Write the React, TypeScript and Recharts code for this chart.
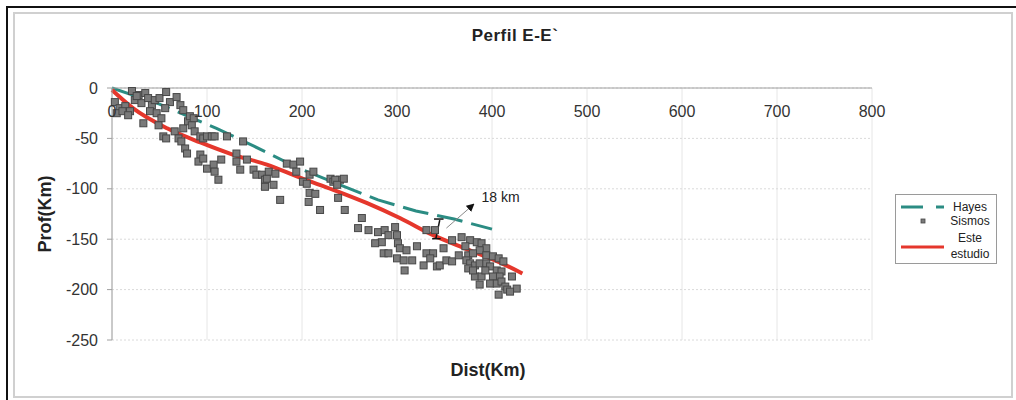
import React from "react"
import {
  ComposedChart,
  Line,
  Scatter,
  XAxis,
  YAxis,
  CartesianGrid,
  ReferenceLine,
  ReferenceDot,
} from "recharts"

// Perfil E-E` : distancia (km) vs profundidad (km)
const xTicks = [0, 100, 200, 300, 400, 500, 600, 700, 800]
const yTicks = [0, -50, -100, -150, -200, -250]

// Hayes (linea discontinua)
const hayesX = [0, 50, 110, 150, 195, 240, 280, 320, 360, 400]
const hayesY = [0, -16, -40, -58, -79, -96, -111, -122, -130, -140]

// Este estudio (linea roja)
const esteX = [0, 22, 58, 93, 127, 163, 198, 233, 268, 303, 338, 374, 408, 432]
const esteY = [-2, -20, -40, -54, -66, -76, -89, -101, -114, -129, -146, -160, -173, -184]

// Sismos (hipocentros)
const sismosX = [
  3, 8, 14, 19, 24, 28, 31, 35, 38, 42, 45, 50, 57, 61, 68, 72, 75, 56, 40, 47,
  52, 33, 49, 54, 57, 66, 70, 73, 77, 79, 75, 80, 82, 86, 84, 87, 93, 96, 100, 105,
  108, 121, 93, 91, 96, 100, 107, 108, 112, 115, 131, 138, 142, 135, 149, 152, 158, 161, 163, 170,
  177, 161, 131, 165, 172, 184, 191, 194, 198, 201, 208, 212, 208, 207, 219, 230, 233, 240, 244, 238,
  245, 205, 214, 235, 237, 5, 11, 17, 21, 26,
  263, 259, 270, 280, 287, 291, 300, 298, 284, 277, 301, 303, 310, 286, 291, 300, 307, 316, 308, 321,
  328, 331, 338, 335, 342, 345, 331, 340, 349, 352, 358, 358, 368, 365, 377, 372, 375, 384, 389, 394,
  387, 380, 373, 377, 382, 387, 394, 398, 405, 410, 408, 401, 398, 405, 410, 414, 407, 416, 382, 389,
  387, 375, 380, 394, 421, 426, 419, 393, 401, 407, 412,
]
const sismosY = [
  -14, -20, -18, -23, -12, -7, -15, -5, -10, -17, -12, -10, -4, -14, -9, -17, -22, -20, -23, -25,
  -30, -35, -37, -48, -50, -43, -50, -53, -60, -65, -40, -33, -28, -30, -37, -43, -48, -50, -48, -48,
  -48, -48, -66, -73, -70, -80, -76, -83, -91, -71, -65, -53, -71, -81, -81, -86, -86, -91, -90, -96,
  -111, -98, -73, -83, -85, -75, -76, -83, -73, -93, -86, -83, -104, -113, -121, -90, -93, -91, -90, -109,
  -121, -95, -105, -91, -96, -25, -23, -27, -3, -8,
  -129, -139, -141, -143, -141, -146, -146, -138, -153, -154, -154, -159, -161, -164, -164, -169, -171, -171, -181, -157,
  -176, -164, -164, -169, -177, -176, -141, -141, -159, -171, -172, -151, -148, -166, -151, -157, -166, -153, -154, -159,
  -161, -164, -171, -174, -176, -174, -174, -177, -181, -182, -187, -187, -194, -194, -192, -197, -205, -200, -187, -187,
  -195, -179, -181, -166, -187, -199, -202, -181, -167, -169, -172,
]

const hayesData = hayesX.map((x, i) => ({ x, y: hayesY[i] }))
const esteData = esteX.map((x, i) => ({ x, y: esteY[i] }))
const sismosData = sismosX.map((x, i) => ({ x, y: sismosY[i] }))

const FONT = "'Liberation Sans', Arial, sans-serif"
const TEAL = "#2b8c83"
const RED = "#e5372c"

const SquareDot = (props: any) => {
  const { cx, cy } = props
  return <rect x={cx - 3.5} y={cy - 3.5} width={7} height={7} fill="#7a7a7a" stroke="#474747" strokeWidth={1} />
}

const ArrowShape = (props: any) => {
  const { x1, y1, x2, y2 } = props
  return (
    <g>
      <defs>
        <marker id="flecha" markerWidth="8" markerHeight="8" refX="6" refY="4" orient="auto" markerUnits="userSpaceOnUse">
          <path d="M0,0 L8,4 L0,8 z" fill="#111" />
        </marker>
      </defs>
      <line x1={x1} y1={y1} x2={x2} y2={y2} stroke="#8a8a8a" strokeWidth={1} markerEnd="url(#flecha)" />
    </g>
  )
}

export default function App() {
  return (
    <div style={{ position: "absolute", left: 0, top: 0, width: 1016, height: 400, background: "#fff", fontFamily: FONT }}>
      {/* marco */}
      <div style={{ position: "absolute", left: 6, top: 6, width: 1010, height: 394, borderTop: "2px solid #111", borderLeft: "2px solid #111" }} />
      <div style={{ position: "absolute", left: 13, top: 12, width: 996, height: 382, border: "2px solid #d0d0d0" }} />

      <div style={{ position: "absolute", left: 0, top: 26, width: 1030, textAlign: "center", fontWeight: "bold", fontSize: 17, letterSpacing: 0.5, color: "#222" }}>
        Perfil E-E`
      </div>

      <div style={{ position: "absolute", left: 0, top: 0 }}>
        <ComposedChart width={1016} height={400} margin={{ top: 88, right: 144, bottom: 60, left: 52 }}>
          <CartesianGrid horizontal={false} stroke="#e6e6e6" />
          <CartesianGrid vertical={false} stroke="#dadada" strokeDasharray="2 2" />
          <XAxis
            dataKey="x"
            type="number"
            domain={[0, 800]}
            ticks={xTicks}
            interval={0}
            orientation="top"
            mirror
            tickLine={false}
            tickSize={6}
            tickMargin={12}
            axisLine={{ stroke: "#a0a0a0" }}
            tick={{ fontSize: 16, fill: "#333", fontFamily: FONT }}
          />
          <YAxis
            dataKey="y"
            type="number"
            domain={[-250, 0]}
            ticks={yTicks}
            interval={0}
            width={60}
            tickSize={5}
            tickMargin={9}
            axisLine={{ stroke: "#a0a0a0" }}
            tickLine={{ stroke: "#a0a0a0" }}
            tick={{ fontSize: 16, fill: "#333", fontFamily: FONT }}
            label={{
              value: "Prof(Km)",
              angle: -90,
              position: "center",
              dx: -37,
              style: { fontSize: 18, fontWeight: "bold", fill: "#222", fontFamily: FONT },
            }}
          />
          <Line
            data={hayesData}
            dataKey="y"
            type="linear"
            stroke={TEAL}
            strokeWidth={3}
            strokeDasharray="26 9"
            dot={false}
            isAnimationActive={false}
          />
          <Scatter data={sismosData} shape={SquareDot} isAnimationActive={false} />
          <Line
            data={esteData}
            dataKey="y"
            type="monotone"
            stroke={RED}
            strokeWidth={4}
            dot={false}
            isAnimationActive={false}
          />
          {/* 18 km */}
          <ReferenceLine segment={[{ x: 345, y: -131 }, { x: 341, y: -149 }]} stroke="#111" strokeWidth={1.5} ifOverflow="visible" />
          <ReferenceLine segment={[{ x: 339, y: -130 }, { x: 349, y: -130 }]} stroke="#111" strokeWidth={1.5} ifOverflow="visible" />
          <ReferenceLine segment={[{ x: 337, y: -149.5 }, { x: 346, y: -149.5 }]} stroke="#111" strokeWidth={1.5} ifOverflow="visible" />
          <ReferenceLine segment={[{ x: 352, y: -139 }, { x: 380, y: -116 }]} shape={ArrowShape} ifOverflow="visible" />
          <ReferenceDot
            x={409}
            y={-108}
            r={0}
            fill="none"
            stroke="none"
            ifOverflow="visible"
            label={{ value: "18 km", position: "center", style: { fontSize: 14, fill: "#222", fontFamily: FONT } }}
          />
        </ComposedChart>
      </div>

      <div style={{ position: "absolute", left: 0, top: 360, width: 976, textAlign: "center", fontWeight: "bold", fontSize: 18, color: "#222" }}>
        Dist(Km)
      </div>

      {/* leyenda */}
      <div style={{ position: "absolute", left: 895, top: 194, width: 100, height: 68, border: "1px solid #9a9a9a", background: "#fff" }}>
        <svg width={100} height={68} style={{ display: "block" }}>
          <line x1={5} y1={12} x2={27} y2={12} stroke={TEAL} strokeWidth={3} />
          <line x1={40} y1={12} x2={48} y2={12} stroke={TEAL} strokeWidth={3} />
          <rect x={25} y={24} width={4} height={4} fill="#7a7a7a" stroke="#474747" strokeWidth={0.8} />
          <line x1={5} y1={52} x2={48} y2={52} stroke={RED} strokeWidth={3} />
          <g fontFamily={FONT} fontSize={12} fill="#222" textAnchor="middle">
            <text x={74} y={16}>Hayes</text>
            <text x={74} y={30}>Sismos</text>
            <text x={74} y={47}>Este</text>
            <text x={74} y={63}>estudio</text>
          </g>
        </svg>
      </div>
    </div>
  )
}
